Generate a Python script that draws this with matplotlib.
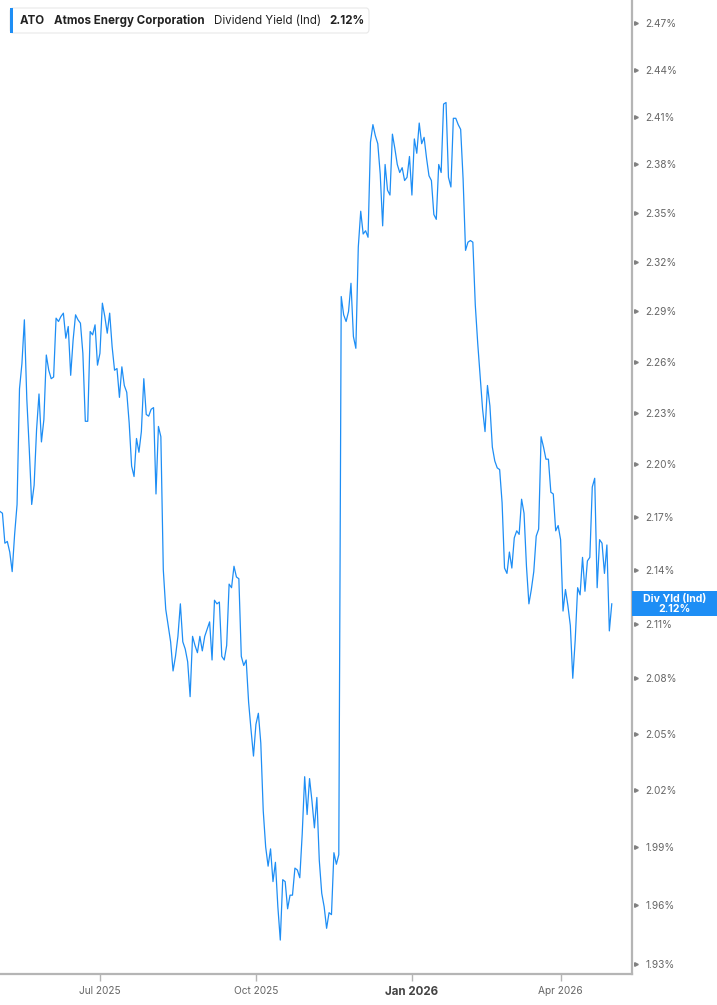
import numpy as np
import pandas as pd
import matplotlib
matplotlib.use("Agg")
import matplotlib.pyplot as plt
import matplotlib.transforms as mtransforms
from matplotlib.patches import FancyBboxPatch, Rectangle
from matplotlib.ticker import NullLocator

plt.rcParams['font.family'] = ['Inter', 'DejaVu Sans']

# --- data ---
start_date = '2025-05-01'
market_holidays = ['2025-05-26', '2025-06-19', '2025-07-04', '2025-09-01',
                   '2025-11-27', '2025-12-25', '2026-01-01', '2026-01-19',
                   '2026-02-16', '2026-04-03']

div_yield = [
    # May - Jul 2025
    2.173, 2.172, 2.155, 2.156, 2.150, 2.139, 2.160, 2.177, 2.244, 2.259,
    2.285, 2.238, 2.209, 2.177, 2.188, 2.220, 2.241, 2.213, 2.226, 2.264,
    2.255, 2.250, 2.251, 2.286, 2.284, 2.287, 2.289, 2.274, 2.281, 2.252,
    2.273, 2.288, 2.285, 2.283, 2.265, 2.225, 2.225, 2.278, 2.276, 2.282,
    2.258, 2.265, 2.295, 2.287, 2.277, 2.289, 2.269, 2.255, 2.256, 2.239,
    2.257, 2.246, 2.242,
    # Jul - Sep 2025
    2.224, 2.199, 2.193, 2.215, 2.207, 2.219, 2.250, 2.229, 2.228, 2.232,
    2.233, 2.183, 2.222, 2.216, 2.140, 2.118, 2.109, 2.100, 2.084, 2.092,
    2.103, 2.121, 2.100, 2.096, 2.089, 2.070, 2.103, 2.098, 2.094, 2.103,
    2.095, 2.103, 2.107, 2.111, 2.090, 2.123, 2.121, 2.122, 2.092, 2.090,
    2.098, 2.132,
    # Sep - Nov 2025
    2.130, 2.142, 2.136, 2.135, 2.092, 2.087, 2.090, 2.067, 2.052, 2.038,
    2.055, 2.061, 2.045, 2.009, 1.990, 1.980, 1.989, 1.972, 1.982, 1.959,
    1.942, 1.973, 1.972, 1.958, 1.965, 1.965, 1.979, 1.978, 1.974, 1.997,
    2.027, 2.007, 2.026, 2.014, 2.000, 2.016, 1.983, 1.966, 1.959, 1.948,
    1.956, 1.955, 1.987, 1.981, 1.986,
    # Nov 2025 - Feb 2026
    2.299, 2.288, 2.284, 2.290, 2.307, 2.275, 2.268, 2.329, 2.351, 2.337,
    2.339, 2.335, 2.394, 2.405, 2.398, 2.393, 2.374, 2.342, 2.380, 2.364,
    2.361, 2.399, 2.390, 2.380, 2.375, 2.378, 2.370, 2.372, 2.385, 2.361,
    2.396, 2.387, 2.406, 2.393, 2.397, 2.384, 2.373, 2.370, 2.349, 2.346,
    2.380, 2.375, 2.418, 2.419, 2.372, 2.366, 2.409, 2.409, 2.405, 2.402,
    2.371,
    # Feb - May 2026
    2.327, 2.332, 2.333, 2.332, 2.294, 2.271, 2.251, 2.232, 2.219, 2.246,
    2.234, 2.210, 2.202, 2.198, 2.197, 2.178, 2.141, 2.138, 2.150, 2.141,
    2.158, 2.162, 2.160, 2.180, 2.172, 2.142, 2.121, 2.129, 2.139, 2.159,
    2.163, 2.216, 2.210, 2.203, 2.203, 2.184, 2.183, 2.162, 2.165, 2.157,
    2.117, 2.129, 2.120, 2.109, 2.080, 2.101, 2.130, 2.126, 2.147, 2.128,
    2.145, 2.147, 2.187, 2.192, 2.130, 2.157, 2.155, 2.138, 2.154, 2.106,
    2.121,
]

y_ticks = [1.93, 1.96, 1.99, 2.02, 2.05, 2.08, 2.11, 2.14, 2.17, 2.20,
           2.23, 2.26, 2.29, 2.32, 2.35, 2.38, 2.41, 2.44, 2.47]
x_tick_months = ['2025-07', '2025-10', '2026-01', '2026-04']
x_tick_labels = ['Jul 2025', 'Oct 2025', 'Jan 2026', 'Apr 2026']

ticker_name = 'ATO'
company = 'Atmos Energy Corporation'
metric = 'Dividend Yield (Ind)'

BLUE = '#1e8ef5'
AXIS = '#b5b5b5'
LABEL = '#666666'

dates = pd.bdate_range(start_date, periods=len(div_yield), freq='C',
                       holidays=market_holidays)
idx = np.arange(len(div_yield))
last = div_yield[-1]

W, H = 717, 1005
fig = plt.figure(figsize=(W / 100, H / 100), dpi=100)
ax = fig.add_axes([0, 31 / H, 632 / W, 974 / H])

ax.plot(idx, div_yield, color=BLUE, lw=0.9)

ax.set_yscale('log')
ax.set_ylim(1.9248, 2.4849)
ax.set_xlim(0, 259.3)

# y axis on the right
ax.yaxis.tick_right()
ax.set_yticks(y_ticks, [f'{v:.2f}%' for v in y_ticks])
ax.yaxis.set_minor_locator(NullLocator())
ax.tick_params(axis='y', which='both', length=0, pad=9.5, labelsize=7.3,
               labelcolor=LABEL)

# x axis: first trading day of each quarter
month_keys = dates.strftime('%Y-%m')
x_pos = [int(np.argmax(month_keys == m)) for m in x_tick_months]
ax.set_xticks(x_pos, x_tick_labels)
ax.tick_params(axis='x', length=5, width=1, color=AXIS, labelsize=7.3,
               labelcolor=LABEL, pad=3.5)
jan = ax.get_xticklabels()[2]
jan.set_fontweight('bold')
jan.set_fontsize(8.3)
jan.set_color('#444444')

for s in ['top', 'left']:
    ax.spines[s].set_visible(False)
for s in ['right', 'bottom']:
    ax.spines[s].set_color(AXIS)
    ax.spines[s].set_linewidth(1.6)

# little arrow heads at the y ticks
tri = mtransforms.blended_transform_factory(ax.transAxes, ax.transData)
ax.plot([1.007] * len(y_ticks), y_ticks, ls='none', marker='>', ms=2.6,
        color='#808080', transform=tri, clip_on=False)

# legend box top-left
fig.add_artist(FancyBboxPatch((10 / W, 1 - 33 / H), 359 / W, 25 / H,
                              boxstyle='round,pad=0,rounding_size=0.004',
                              transform=fig.transFigure, facecolor='white',
                              edgecolor='#e8e8e8', lw=0.8))
fig.add_artist(Rectangle((10 / W, 1 - 33 / H), 3 / W, 25 / H,
                         transform=fig.transFigure, facecolor=BLUE,
                         edgecolor='none'))

fig.canvas.draw()
renderer = fig.canvas.get_renderer()
ty = 1 - 20.5 / H
x_px = 20
for txt, wt in [(ticker_name, 'bold'), (company, 'bold'),
                (metric, 'normal'), (f'{last:.2f}%', 'bold')]:
    t = fig.text(x_px / W, ty, txt, fontsize=8.3, fontweight=wt,
                 color='#222222', va='center')
    x_px = t.get_window_extent(renderer).x1 + 9

# last value flag on the right axis
to_fig = fig.transFigure.inverted()
y_disp = ax.transData.transform((0, last))[1]
fx0, fy0 = to_fig.transform((632, y_disp - 12.5))
fx1, fy1 = to_fig.transform((W, y_disp + 12.5))
fig.add_artist(Rectangle((fx0, fy0), fx1 - fx0, fy1 - fy0,
                         transform=fig.transFigure, facecolor=BLUE,
                         edgecolor='none'))
fig.text((fx0 + fx1) / 2, (fy0 + fy1) / 2, f'Div Yld (Ind)\n{last:.2f}%',
         ha='center', va='center', fontsize=7.6, fontweight='bold',
         color='white', linespacing=1.0)

fig.savefig('out.png', dpi=100, facecolor='white')
